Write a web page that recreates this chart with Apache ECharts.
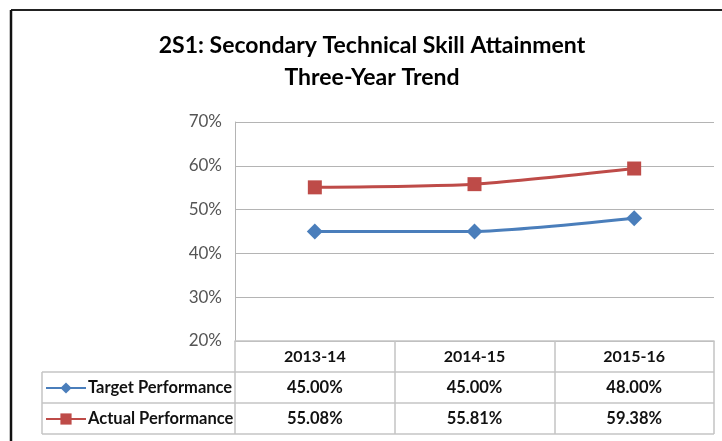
<!DOCTYPE html>
<html>
<head>
<meta charset="utf-8">
<script src="https://cdn.jsdelivr.net/npm/echarts@6/dist/echarts.min.js"></script>
<style>
html,body{margin:0;padding:0;background:#fff;}
#main{width:722px;height:441px;}
</style>
</head>
<body>
<div id="main"></div>
<script>
var titleLines = ['2S1: Secondary Technical Skill Attainment', 'Three-Year Trend'];
var categories = ['2013-14', '2014-15', '2015-16'];
var targetValues = [45.00, 45.00, 48.00];
var actualValues = [55.08, 55.81, 59.38];
var seriesNames = ['Target Performance', 'Actual Performance'];
var yTicks = {min: 20, max: 70, interval: 10};

var FONT = 'Lato';
var G = {left: 235, right: 714, top: 122, bottom: 341};
var ROW = 31;
var TABLE_LEFT = 42;
var gridColor = '#b4b4b4';
var tableColor = '#c4c4c4';

var chart = echarts.init(document.getElementById('main'), null, {renderer: 'canvas'});

var tableLines = [];
for (var r = 1; r <= 3; r++) {
  var y = G.bottom + ROW * r;
  tableLines.push({type: 'line', shape: {x1: TABLE_LEFT, y1: y, x2: G.right, y2: y},
    style: {stroke: tableColor, lineWidth: 1.5}, silent: true});
}
tableLines.push({type: 'line', shape: {x1: TABLE_LEFT, y1: G.bottom + ROW, x2: TABLE_LEFT, y2: G.bottom + ROW * 3},
  style: {stroke: tableColor, lineWidth: 1.5}, silent: true});
// frame
tableLines.push({type: 'line', shape: {x1: 11, y1: 10, x2: 722, y2: 10}, style: {stroke: '#222', lineWidth: 2}, silent: true});
tableLines.push({type: 'line', shape: {x1: 11, y1: 10, x2: 11, y2: 441}, style: {stroke: '#111', lineWidth: 2.5}, silent: true});

var option = {
  backgroundColor: '#fff',
  animation: false,
  textStyle: {fontFamily: FONT},
  title: {
    text: titleLines.join('\n'),
    left: 372, top: 30, textAlign: 'center', padding: 0,
    textStyle: {fontFamily: FONT, fontSize: 23, fontWeight: 'bold', color: '#000', lineHeight: 32}
  },
  legend: {
    orient: 'vertical',
    left: 45, top: G.bottom + ROW + (ROW - 14) / 2 - 1, padding: 0,
    itemWidth: 40, itemHeight: 14, itemGap: ROW - 17,
    data: seriesNames,
    textStyle: {fontFamily: FONT, fontSize: 16.5, fontWeight: 'bold', color: '#111', lineHeight: 14, height: 14, padding: [0, 0, 0, -3]}
  },
  grid: {left: G.left, right: 722 - G.right, top: G.top, bottom: 441 - G.bottom, containLabel: false},
  xAxis: {
    type: 'category',
    data: categories,
    boundaryGap: true,
    axisLine: {show: true, lineStyle: {color: tableColor, width: 1.5}},
    axisTick: {show: true, interval: 0, inside: false, length: ROW * 3, lineStyle: {color: tableColor, width: 1.5}},
    splitLine: {show: false},
    axisLabel: {
      interval: 0, margin: 0,
      formatter: function (val, idx) {
        return '{h|' + val + '}\n{v|' + targetValues[idx].toFixed(2) + '%}\n{v|' + actualValues[idx].toFixed(2) + '%}';
      },
      rich: {
        h: {fontFamily: FONT, fontSize: 16, fontWeight: 'bold', color: '#111', lineHeight: ROW, height: ROW},
        v: {fontFamily: FONT, fontSize: 16.5, fontWeight: 'bold', color: '#111', lineHeight: ROW, height: ROW}
      }
    }
  },
  yAxis: {
    type: 'value',
    min: yTicks.min, max: yTicks.max, interval: yTicks.interval,
    axisLine: {show: true, lineStyle: {color: gridColor, width: 1}},
    axisTick: {show: false},
    axisLabel: {formatter: '{value}%', margin: 13, fontFamily: FONT, fontSize: 17, color: '#555'},
    splitLine: {show: true, lineStyle: {color: gridColor, width: 1}}
  },
  series: [
    {
      name: seriesNames[0], type: 'line', data: targetValues,
      smooth: 0.2,
      symbol: 'diamond', symbolSize: 16,
      lineStyle: {color: '#4a7ebb', width: 3},
      itemStyle: {color: '#4a7ebb'}
    },
    {
      name: seriesNames[1], type: 'line', data: actualValues,
      smooth: 0.2,
      symbol: 'rect', symbolSize: 14,
      lineStyle: {color: '#be4b48', width: 3},
      itemStyle: {color: '#be4b48'}
    }
  ],
  graphic: tableLines
};
chart.setOption(option);
</script>
</body>
</html>
